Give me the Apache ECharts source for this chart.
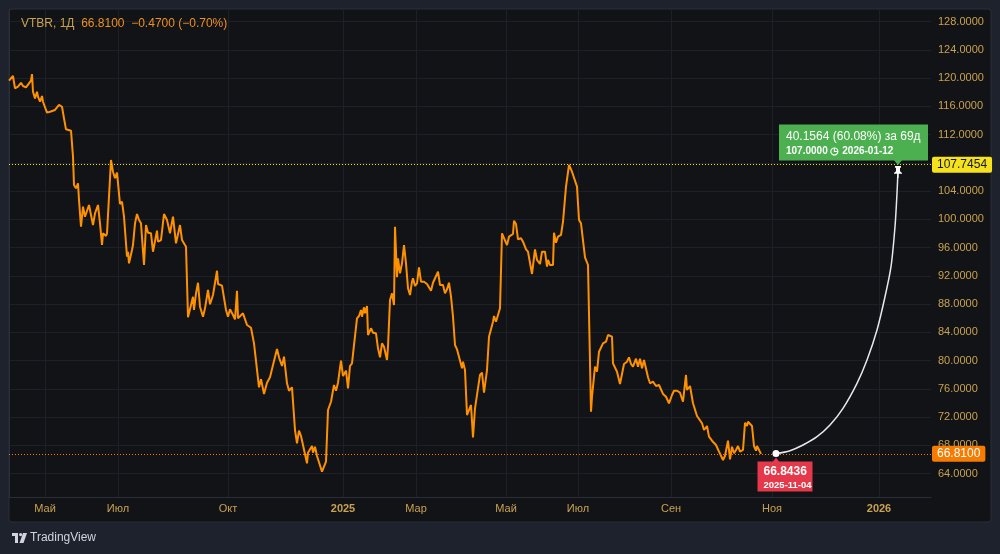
<!DOCTYPE html>
<html>
<head>
<meta charset="utf-8">
<title>VTBR, 1Д</title>
<script src="https://cdn.jsdelivr.net/npm/echarts@6/dist/echarts.min.js"></script>
<style>
    html, body {margin: 0; padding: 0; background: #1e222d;}
    #chartBox {width: 1000px; height: 554px;}
</style>
</head>
<body>
<div id="chartBox"></div>
<script>
/**
 * VTBR, дневной график + прогноз
 */

// номер бара по шкале времени
var barIndex = [
    0,2,4,6,8,9,10,12,14,17, 19,22,23,24,26,28,29,31,33,34,
    38,41,46,48,50,53,55,57,59,62, 64,65,67,69,70,72,74,76,78,80,
    82,84,86,88,89,91,93,94,97,98, 102,104,106,108,111,113,115,118,119,120,
    123,124,126,128,130,132,135,137,139,142, 144,148,149,152,155,158,161,164,167,169,
    171,173,175,177,179,181,184,185,187,189, 191,194,196,199,201,204,208,209,213,217,
    219,221,224,226,228,229,231,234,236,238, 242,245,247,250,252,255,258,261,264,268,
    270,273,275,278,280,283,286,288,290,292, 294,298,299,303,304,306,308,310,313,314,
    317,319,322,324,325,327,329,332,334,335, 337,339,341,343,345,348,350,352,353,355,
    356,358,359,362,364,367,369,371,373,375, 378,379,381,383,385,386,388,389,391,393,
    395,397,399,401,403,404,406,408,410,412, 415,418,422,424,426,429,431,434,436,438,
    440,442,444,446,448,450,453,454,456,458, 460,462,464,466,468,471,473,475,478,480,
    482,484,485,487,489,491,493,495,498,500, 504,505,507,509,512,514,517,519,521,523,
    526,528,531,533,536,538,539,541,544,545, 547,549,552,554,557,560,563,564,568,570,
    572,576,578,579,582,583,586,588,590,594, 597,599,603,604,608,611,613,615,618,620,
    622,624,627,629,631,633,635,639,641,644, 647,650,654,657,660,663,665,668,671,674,
    677,678,681,684,688,693,695,698,700,703, 707,710,714,716,719,721,723,725,727,729,
    731,734,736,738,739,743,745,747,748,752
];

// цена закрытия
var closePrice = [
    119.65,119.84,120.31,118.57,118.71,118.80,118.57,119.36,118.90,118.71,
    118.90,119.65,120.59,118.09,117.15,118.09,117.38,116.67,117.48,116.67,
    115.12,115.26,115.50,115.40,116.21,115.96,114.32,112.76,112.57,112.57,
    108.88,104.88,104.41,105.12,102.75,98.97,101.81,100.39,100.39,102.05,
    101.81,99.21,100.87,101.10,102.05,99.45,96.38,98.04,97.66,98.04,
    108.42,106.76,105.83,106.62,102.19,102.51,100.39,94.73,95.43,93.79,
    95.67,96.38,99.45,100.77,99.92,99.45,93.55,99.21,98.12,98.04,
    95.43,98.41,96.85,97.09,100.77,99.92,98.04,100.39,96.62,96.85,
    99.21,97.09,96.85,96.14,86.15,86.23,89.06,87.18,89.54,91.04,
    87.65,86.23,87.42,90.01,87.99,89.30,92.74,90.86,90.62,87.18,
    86.23,87.28,86.47,85.86,89.91,86.00,86.00,86.71,86.47,85.05,
    84.67,82.46,82.55,76.23,77.37,75.29,76.88,77.65,79.39,81.66,
    80.48,79.25,80.57,76.80,75.75,76.23,70.19,68.30,70.09,69.34,
    69.34,65.47,66.97,67.92,66.97,67.82,66.51,66.32,64.28,64.14,
    65.70,73.02,74.19,74.19,76.56,75.75,76.88,80.00,77.83,77.98,
    78.58,76.09,79.25,79.63,82.22,86.00,86.33,87.18,86.23,87.56,
    86.71,87.74,83.64,84.59,83.96,83.88,81.75,80.48,82.46,81.98,
    80.10,81.98,88.59,89.54,87.89,98.97,91.81,94.50,92.37,93.79,
    96.38,93.79,90.25,89.30,91.19,91.67,90.58,90.96,93.22,91.19,
    91.19,90.86,89.91,91.04,91.19,92.60,90.72,90.72,89.54,90.11,
    91.04,89.06,86.23,82.22,81.61,81.75,78.92,79.86,78.68,72.31,
    72.31,73.73,69.15,73.26,73.26,77.98,78.30,75.47,78.68,83.40,
    83.50,85.52,86.33,85.52,85.76,87.42,98.04,98.12,96.38,97.56,
    97.94,99.82,99.36,97.19,97.33,96.85,95.77,95.43,95.58,92.28,
    95.77,94.26,93.69,95.43,95.43,93.31,94.26,93.55,93.55,98.12,
    96.71,97.56,97.80,99.68,104.64,107.71,106.76,106.76,104.64,99.92,
    99.45,94.64,94.50,93.55,72.78,74.90,79.15,78.44,81.27,82.46,
    82.69,83.64,83.40,79.63,78.44,76.70,76.70,79.53,79.86,80.48,
    79.53,79.15,80.28,79.15,80.28,78.92,80.10,77.65,76.80,77.03,
    76.42,76.56,75.29,74.90,73.97,75.14,75.75,75.75,75.47,74.19,
    77.98,75.85,76.42,73.97,72.17,71.14,70.19,70.75,69.24,68.67,
    68.06,67.12,65.94,66.51,68.67,66.04,67.82,66.89,67.36,67.92,
    67.12,67.36,71.22,70.75,71.36,70.75,67.92,67.26,67.92,66.81
];

// прогноз: 2025-11-04 -> 2026-01-12
var projBar = [767,781,794,808,821,834,848,858,868,876,882,886,888,889];
var projPrice = [66.8436,67.26,68.06,69.24,70.90,73.26,76.80,80.10,84.35,89.06,93.31,98.97,103.70,107.0];

// подписи шкалы времени
var monthTickBars = [36,109,219,334,407,497,569,662,763,870];
var monthTickLabels = ['Май','Июл','Окт','2025','Мар','Май','Июл','Сен','Ноя','2026'];

// подписи шкалы цены
var priceTicks = [64,68,72,76,80,84,88,92,96,100,104,108,112,116,120,124,128];

var lastClose = 66.81,
    targetLevel = 107.7454,
    startInfo = {price: '66.8436', date: '2025-11-04'},
    targetInfo = {change: '40.1564 (60.08%) за 69д', price: '107.0000', date: '2026-01-12'};

var FONT = '"Liberation Sans", Roboto, Arial, sans-serif',
    AXIS_COLOR = '#c9a24f',
    LINE_COLOR = '#ff9100',
    GRID_COLOR = '#1d2027',
    BORDER_COLOR = '#2a2e39';

function zip(xs, ys){
    var _result = [];
    for(var i = 0; i < xs.length; i++){
        _result.push([xs[i], ys[i]]);
    }
    return _result;
}

//горизонтальная пунктирная линия с меткой на шкале цены
function levelLine(_value, _color, _textColor){
    return {
        silent: true,
        symbol: ['none', 'none'],
        animation: false,
        lineStyle: {color: _color, type: [1, 2], width: 1, opacity: 1},
        label: {
            position: 'end', distance: 1,
            formatter: _value.toFixed(4),
            color: _textColor, fontSize: 12,
            backgroundColor: _color, padding: [2, 5, 2, 5], borderRadius: 2
        },
        emphasis: {disabled: true},
        data: [{yAxis: _value}]
    };
}

function getParams(){
    var _start = [projBar[0], projPrice[0]],
        _end = [projBar[projBar.length - 1], projPrice[projPrice.length - 1]];

    return {
        backgroundColor: '#1e222d',
        animation: false,
        textStyle: {fontFamily: FONT},
        graphic: [
            {
                type: 'rect', z: -10, silent: true,
                shape: {x: 9, y: 9, width: 982, height: 513, r: 3},
                style: {fill: '#111317', stroke: BORDER_COLOR, lineWidth: 1}
            },
            //логотип
            {
                type: 'group', left: 12, top: 532, silent: true,
                children: [
                    {type: 'rect', shape: {x: 0, y: 0, width: 6, height: 3}, style: {fill: '#d1d4dc'}},
                    {type: 'rect', shape: {x: 3, y: 0, width: 3, height: 10}, style: {fill: '#d1d4dc'}},
                    {type: 'circle', shape: {cx: 8.6, cy: 1.6, r: 1.6}, style: {fill: '#d1d4dc'}},
                    {type: 'polygon', shape: {points: [[11, 0], [15, 0], [11.5, 10], [7.5, 10]]}, style: {fill: '#d1d4dc'}},
                    {type: 'text', x: 18, y: -1, style: {text: 'TradingView', fill: '#d1d4dc', fontSize: 12, fontFamily: FONT}}
                ]
            }
        ],
        title: {
            left: 16, top: 13,
            text: '{a|VTBR, 1Д}  {b|66.8100  −0.4700 (−0.70%)}',
            textStyle: {
                fontSize: 12,
                fontWeight: 'normal',
                rich: {
                    a: {color: AXIS_COLOR, fontSize: 12, fontWeight: 'normal', fontFamily: FONT},
                    b: {color: '#f0901e', fontSize: 12, fontWeight: 'normal', fontFamily: FONT}
                }
            }
        },
        grid: {left: 9, right: 69, top: 9, bottom: 57},
        xAxis: {
            type: 'value',
            min: 0,
            max: 922,
            axisLine: {show: true, lineStyle: {color: BORDER_COLOR}},
            axisTick: {show: false, customValues: monthTickBars},
            axisLabel: {
                customValues: monthTickBars,
                color: AXIS_COLOR,
                fontSize: 11,
                margin: 6,
                formatter: function(_v){
                    var _label = monthTickLabels[monthTickBars.indexOf(_v)] || '';
                    return /^\d+$/.test(_label) ? '{y|' + _label + '}' : _label;
                },
                rich: {y: {color: AXIS_COLOR, fontSize: 11, fontWeight: 'bold'}}
            },
            splitLine: {show: true, lineStyle: {color: GRID_COLOR}}
        },
        yAxis: {
            type: 'value',
            position: 'right',
            min: 60.7,
            max: 129.8,
            axisLine: {show: true, lineStyle: {color: BORDER_COLOR}},
            axisTick: {show: false, customValues: priceTicks},
            axisLabel: {
                customValues: priceTicks,
                color: AXIS_COLOR,
                fontSize: 11,
                margin: 7,
                formatter: function(_v){ return _v.toFixed(4); }
            },
            splitLine: {show: true, lineStyle: {color: GRID_COLOR}}
        },
        series: [
            {
                name: 'VTBR',
                type: 'line',
                data: zip(barIndex, closePrice),
                showSymbol: false,
                z: 3,
                lineStyle: {color: LINE_COLOR, width: 2},
                itemStyle: {color: LINE_COLOR},
                markLine: levelLine(lastClose, '#f57c00', '#ffffff')
            },
            {
                name: 'Прогноз',
                type: 'line',
                data: zip(projBar, projPrice),
                smooth: 0.3,
                showSymbol: false,
                z: 4,
                lineStyle: {color: '#e6e8ee', width: 1.5},
                itemStyle: {color: '#e6e8ee'},
                markLine: levelLine(targetLevel, '#f5e21c', '#131722'),
                markPoint: {
                    animation: false,
                    silent: true,
                    data: [
                        //старт
                        {coord: _start, symbol: 'triangle', symbolSize: [9, 6], symbolOffset: [0, 7],
                            itemStyle: {color: '#e5394b'}, label: {show: false}},
                        {
                            coord: _start, symbol: 'rect', symbolSize: [55, 30], symbolOffset: [9, 23],
                            itemStyle: {color: '#e5394b'},
                            label: {
                                show: true, position: [6, 3], align: 'left', verticalAlign: 'top',
                                formatter: '{p|' + startInfo.price + '}\n{d|' + startInfo.date + '}',
                                rich: {
                                    p: {color: '#ffffff', fontSize: 12, fontWeight: 'bold', lineHeight: 15},
                                    d: {color: '#ffffff', fontSize: 9.5, fontWeight: 'bold', lineHeight: 12}
                                }
                            }
                        },
                        {coord: _start, symbol: 'circle', symbolSize: 7,
                            itemStyle: {color: '#ffffff'}, label: {show: false}},
                        //цель
                        {coord: _end, symbol: 'triangle', symbolRotate: 180, symbolSize: [10, 6], symbolOffset: [0, -8],
                            itemStyle: {color: '#4caf50'}, label: {show: false}},
                        {
                            coord: _end, symbol: 'rect', symbolSize: [149, 36], symbolOffset: [-44.5, -27.5],
                            itemStyle: {color: '#4caf50'},
                            label: {
                                show: true, position: [7, 4], align: 'left', verticalAlign: 'top',
                                formatter: '{c|' + targetInfo.change + '}\n{p|' + targetInfo.price + ' ◷ ' + targetInfo.date + '}',
                                rich: {
                                    c: {color: '#ffffff', fontSize: 12, lineHeight: 16},
                                    p: {color: '#ffffff', fontSize: 10, fontWeight: 'bold', lineHeight: 14}
                                }
                            }
                        },
                        {coord: _end, symbol: 'path://M2,0 H8 V2 H7 V6 L9,8 V9 H5.5 V14 H4.5 V9 H1 V8 L3,6 V2 H2 Z',
                            symbolSize: [8, 12], symbolOffset: [0, 2],
                            itemStyle: {color: '#ffffff'}, label: {show: false}}
                    ]
                }
            }
        ]
    };
}

//渲染图表
function renderChartBox(){
    var _chart = echarts.init(document.getElementById('chartBox'), null, {renderer: 'canvas'});
    _chart.setOption(getParams());
}

renderChartBox();
</script>
</body>
</html>
